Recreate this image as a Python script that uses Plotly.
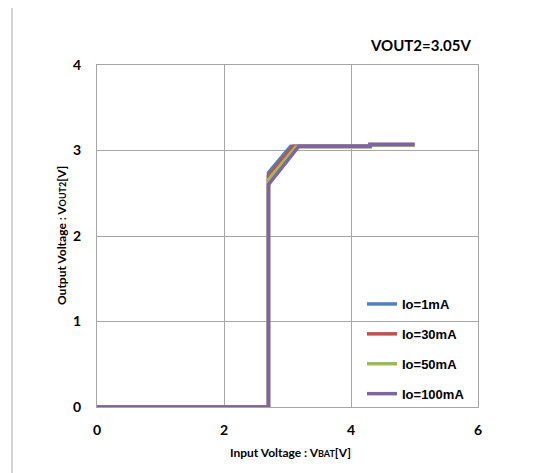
import plotly.graph_objects as go

# ---- data ----
series_names = ["Io=1mA", "Io=30mA", "Io=50mA", "Io=100mA"]
series_colors = ["#4F81BD", "#C0504D", "#9BBB59", "#8064A2"]
vin_1mA = [0, 2.70, 2.70, 3.05, 4.30, 4.30, 5.00]
vout_1mA = [0, 0, 2.74, 3.05, 3.05, 3.07, 3.07]
vin_30mA = [0, 2.70, 2.70, 3.09, 4.30, 4.30, 5.00]
vout_30mA = [0, 0, 2.70, 3.05, 3.05, 3.07, 3.07]
vin_50mA = [0, 2.70, 2.70, 3.13, 4.30, 4.30, 5.00]
vout_50mA = [0, 0, 2.66, 3.04, 3.04, 3.06, 3.06]
vin_100mA = [0, 2.70, 2.70, 3.18, 4.30, 4.30, 5.00]
vout_100mA = [0, 0, 2.60, 3.05, 3.05, 3.07, 3.07]
x_ticks = [0, 2, 4, 6]
y_ticks = [0, 1, 2, 3, 4]
title_text = "VOUT2=3.05V"
x_title = "Input Voltage : V<span style='font-size:9px'>BAT</span>[V]"
y_title = "Output Voltage : V<span style='font-size:9px'>OUT2</span>[V]"

xs = [vin_1mA, vin_30mA, vin_50mA, vin_100mA]
ys = [vout_1mA, vout_30mA, vout_50mA, vout_100mA]

FONT = "Lato, Liberation Sans, Arial, sans-serif"

fig = go.Figure()
for i, name in enumerate(series_names):
    fig.add_trace(go.Scatter(
        x=xs[i], y=ys[i], mode="lines", name=name,
        line=dict(color=series_colors[i], width=3.5),
        legendgroup=name,
    ))

OFF = 8  # page body margin
W, H = 540 - OFF, 473 - OFF
L, R, T, B = 97 - OFF, 478 - OFF, 65 - OFF, 407 - OFF
pw, ph = R - L, B - T

def px(xpix):
    return (xpix - OFF - L) / pw

def py(ypix):
    return (B - (ypix - OFF)) / ph

fig.update_layout(
    width=W, height=H,
    margin=dict(l=L, r=W - R, t=T, b=H - B, autoexpand=False),
    paper_bgcolor="white", plot_bgcolor="white",
    font=dict(family=FONT, color="black"),
    showlegend=True,
    legend=dict(
        x=px(362), y=py(289), xanchor="left", yanchor="top",
        bgcolor="rgba(0,0,0,0)", borderwidth=0,
        traceorder="grouped", tracegroupgap=10,
        font=dict(family="Liberation Sans, Arial, sans-serif", size=13, color="black", weight="bold"),
        itemwidth=30,
    ),
    xaxis=dict(
        range=[0, 6], tickvals=x_ticks, ticktext=[str(v) for v in x_ticks],
        showgrid=True, gridcolor="#A6A6A6", gridwidth=1,
        showline=True, linecolor="#A6A6A6", linewidth=1, mirror=True,
        zeroline=False, ticks="", ticklabelstandoff=10,
        tickfont=dict(family=FONT, size=14, color="black", weight="bold"),
    ),
    yaxis=dict(
        range=[0, 4], tickvals=y_ticks, ticktext=[str(v) for v in y_ticks],
        showgrid=True, gridcolor="#A6A6A6", gridwidth=1,
        showline=True, linecolor="#A6A6A6", linewidth=1, mirror=True,
        zeroline=False, ticks="", ticklabelstandoff=12,
        tickfont=dict(family=FONT, size=14, color="black", weight="bold"),
    ),
    shapes=[
        dict(type="rect", xref="paper", yref="paper",
             x0=px(12), x1=px(538), y0=py(490), y1=py(6),
             line=dict(color="#A6A6A6", width=1), fillcolor="rgba(0,0,0,0)", layer="below"),
    ],
    annotations=[
        dict(text=title_text, xref="paper", yref="paper",
             x=px(473), y=py(45), xanchor="right", yanchor="middle", showarrow=False,
             font=dict(family=FONT, size=15, color="black", weight="bold")),
        dict(text=x_title, xref="paper", yref="paper",
             x=px(290), y=py(452), xanchor="center", yanchor="middle", showarrow=False,
             font=dict(family=FONT, size=12, color="black", weight="bold")),
        dict(text=y_title, xref="paper", yref="paper", textangle=-90,
             x=px(61), y=py(236), xanchor="center", yanchor="middle", showarrow=False,
             font=dict(family=FONT, size=12, color="black", weight="bold")),
    ],
)

fig.write_html("out.html")
